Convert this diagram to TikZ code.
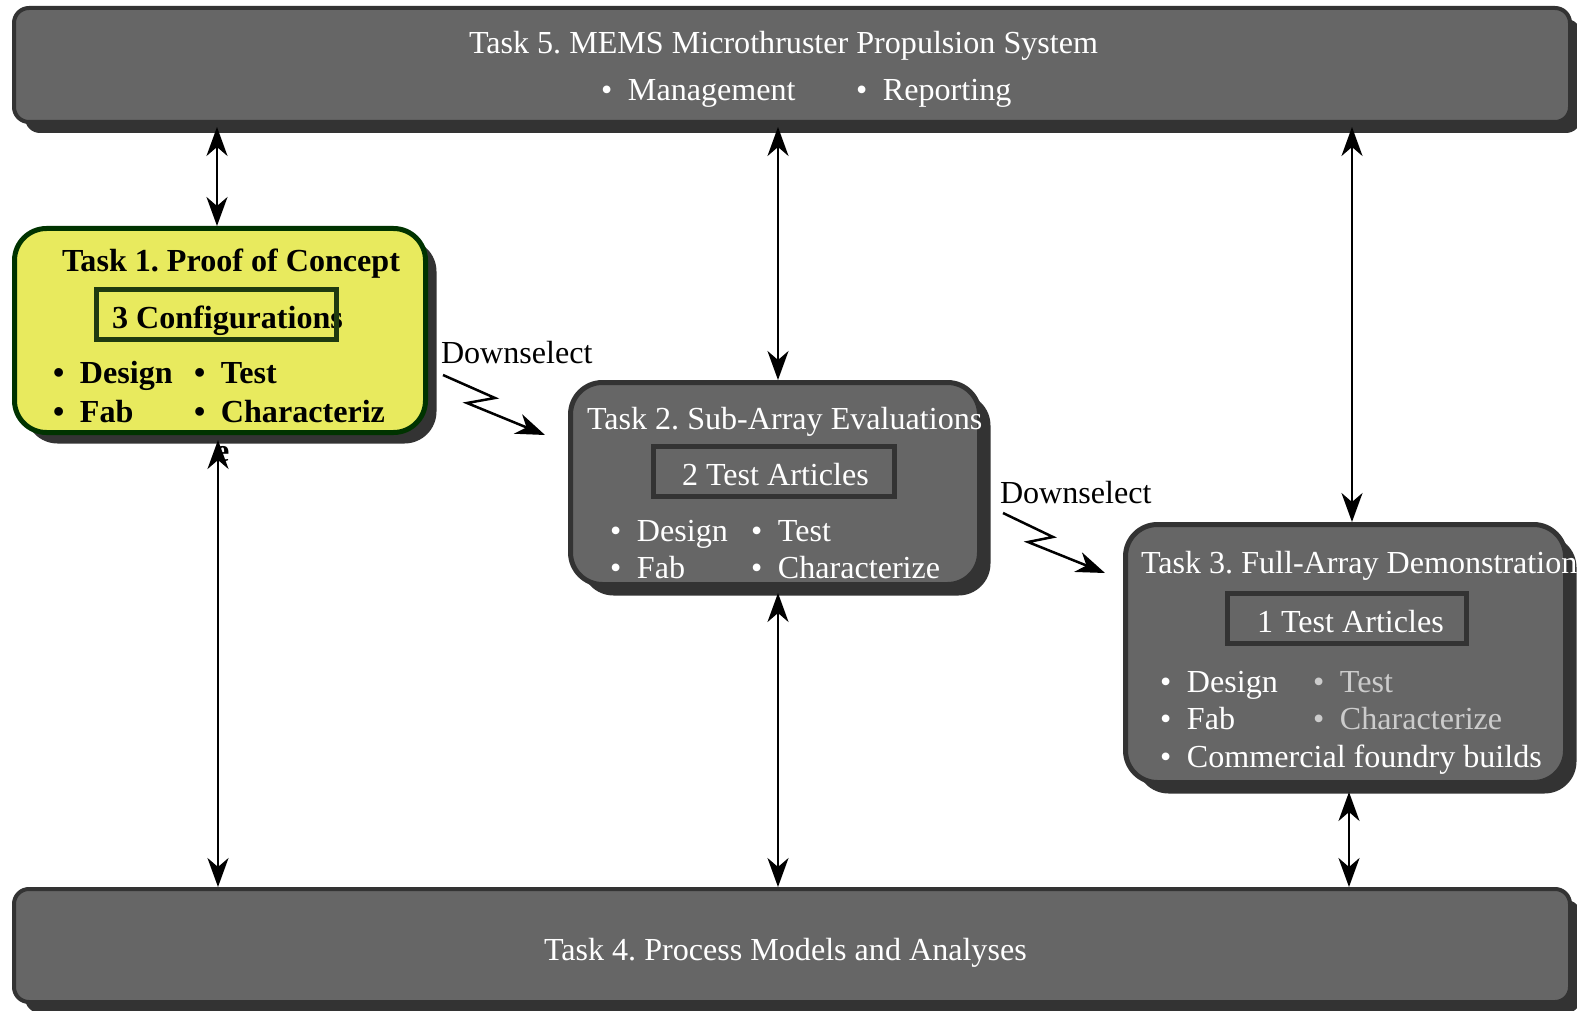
\documentclass[tikz,border=0pt]{standalone}
\usepackage{fontspec}
\setmainfont{Liberation Serif}
\usetikzlibrary{arrows.meta,shadows}
\definecolor{boxgray}{HTML}{666666}
\definecolor{edgegray}{HTML}{333333}
\definecolor{padyellow}{HTML}{E8EA5E}
\definecolor{padgreen}{HTML}{003300}
\definecolor{cfggreen}{HTML}{1F3A10}
\definecolor{dimtext}{HTML}{CCCCCC}
\frenchspacing

% bullet item: name, bullet position, text, style
\newcommand\bitem[4]{\node[lbl,#4] (#1) at (#2) {\makebox[25pt][l]{\hspace{-1.9pt}•}#3};}

\begin{document}
\begin{tikzpicture}[x=1pt,y=-1pt,
  font=\fontsize{32.1}{38}\selectfont,
  shade/.style={drop shadow={shadow xshift=11pt,shadow yshift=-11pt,fill=edgegray,opacity=1}},
  bigbox/.style={shade,draw=edgegray,fill=boxgray,line width=4pt,rounded corners=15pt,inner sep=0pt},
  taskbox/.style={shade,draw=edgegray,fill=boxgray,line width=5pt,rounded corners=32pt,inner sep=0pt},
  padbox/.style={shade,draw=padgreen,fill=padyellow,line width=5pt,rounded corners=32pt,inner sep=0pt},
  countbox/.style={draw=edgegray,line width=5pt,inner sep=0pt},
  cfgbox/.style={draw=cfggreen,line width=5pt,inner sep=0pt},
  lbl/.style={anchor=base west,inner sep=0pt,outer sep=0pt},
  wht/.style={text=white},
  dim/.style={text=dimtext},
  blk/.style={text=black,font=\fontsize{32.1}{38}\selectfont\bfseries},
  tip/.tip={Stealth[length=29pt,width=21pt,inset=9pt]},
  dbl/.style={line width=2.5pt,tip-tip},
  zig/.style={line width=2.5pt,-tip,line join=miter}]

\useasboundingbox (0,0) rectangle (1577,1011);

% task boxes
\node[bigbox,minimum width=1556pt,minimum height=114pt] (t5) at (792,65) {};
\node[bigbox,minimum width=1556pt,minimum height=113pt] (t4) at (792,945.5) {};
\node[padbox,minimum width=411pt,minimum height=204pt] (t1) at (220,330.5) {};
\node[taskbox,minimum width=409pt,minimum height=202pt] (t2) at (775,483.5) {};
\node[taskbox,minimum width=440pt,minimum height=258pt] (t3) at (1345.5,653.5) {};

% Task 5
\node[lbl,wht] (t5title) at (469,54) {Task 5. MEMS Microthruster Propulsion System};
\bitem{t5a}{603,101}{Management}{wht}
\bitem{t5b}{858,101}{Reporting}{wht}

% Task 4
\node[lbl,wht] (t4title) at (544,960) {Task 4. Process Models and Analyses};

% Task 1
\node[lbl,blk] (t1title) at (62,272) {Task 1. Proof of Concept};
\node[lbl,blk] (t1count) at (112,328) {3 Configurations};
\bitem{t1a}{55,383}{Design}{blk}
\bitem{t1b}{196,383}{Test}{blk}
\bitem{t1c}{55,422}{Fab}{blk}
\bitem{t1d}{196,422}{Characteriz}{blk}
\node[cfgbox,minimum width=240pt,minimum height=50pt] (c1) at (216.5,314.5) {};

% Task 2
\node[lbl,wht] (t2title) at (587,429) {Task 2. Sub-Array Evaluations};
\node[lbl,wht] (t2count) at (682,485) {2 Test Articles};
\bitem{t2a}{612,541}{Design}{wht}
\bitem{t2b}{753,541}{Test}{wht}
\bitem{t2c}{612,578}{Fab}{wht}
\bitem{t2d}{753,578}{Characterize}{wht}
\node[countbox,minimum width=241pt,minimum height=50pt] (c2) at (774,471.5) {};

% Task 3
\node[lbl,wht] (t3title) at (1141,573) {Task 3. Full-Array Demonstration};
\node[lbl,wht] (t3count) at (1257,632) {1 Test Articles};
\bitem{t3a}{1162,692}{Design}{wht}
\bitem{t3b}{1315,692}{Test}{dim}
\bitem{t3c}{1162,729}{Fab}{wht}
\bitem{t3d}{1315,729}{Characterize}{dim}
\bitem{t3e}{1162,767}{Commercial foundry builds}{wht}
\node[countbox,minimum width=239pt,minimum height=50pt] (c3) at (1347,618.5) {};

% downselect steps
\node[lbl] (ds1) at (441,363) {Downselect};
\node[lbl] (ds2) at (1000,503) {Downselect};
\coordinate (z1a) at (443,375);
\coordinate (z1b) at (545,435);
\coordinate (z2a) at (1003,513);
\coordinate (z2b) at (1105,573);
\draw[zig] (z1a) -- (495,398) -- (467,403) -- (z1b);
\draw[zig] (z2a) -- (1053,537) -- (1028,542) -- (z2b);

% links to management and to process models
\draw[dbl,shorten <=3pt] (217,0 |- t5.south) -- (217,0 |- t1.north);
\draw[dbl,shorten <=3pt] (778,0 |- t5.south) -- (778,0 |- t2.north);
\draw[dbl,shorten <=3pt] (1352,0 |- t5.south) -- (1352,0 |- t3.north);
\draw[dbl,shorten <=5pt] (218,0 |- t1.south) -- (218,0 |- t4.north);
\draw[dbl,shorten <=6pt] (778,0 |- t2.south) -- (778,0 |- t4.north);
\draw[dbl,shorten <=7pt] (1349,0 |- t3.south) -- (1349,0 |- t4.north);

% overflow of the last Task 1 item
\node[lbl,blk] (t1wrap) at (215,461) {e};
\end{tikzpicture}
\end{document}
